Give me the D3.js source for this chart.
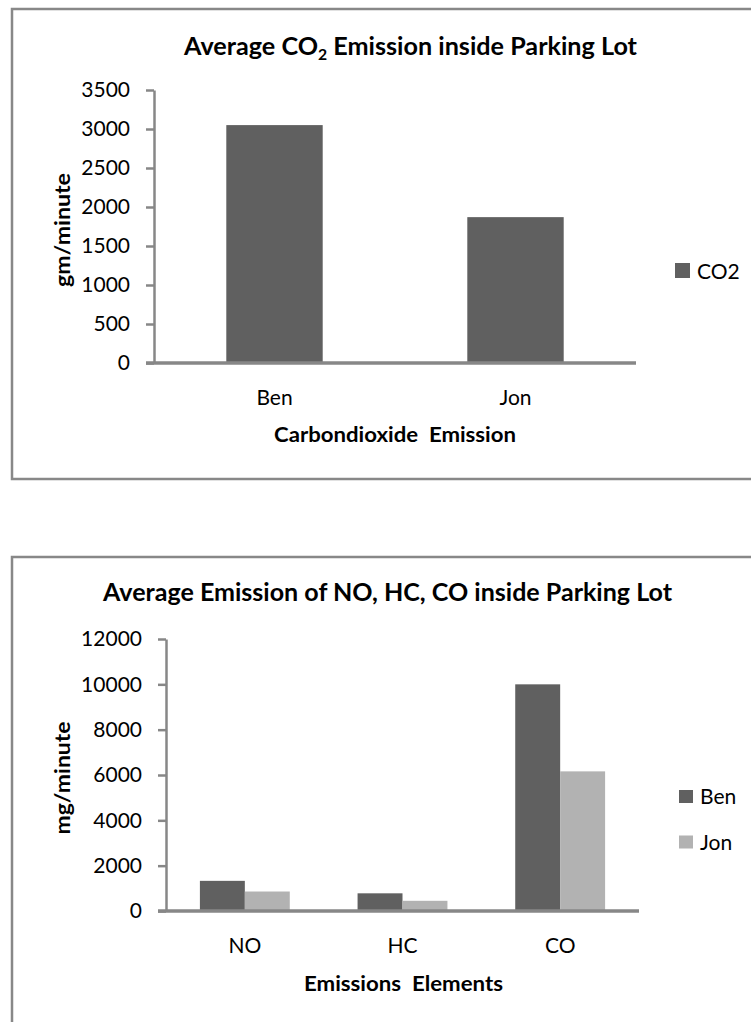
<!DOCTYPE html>
<html>
<head>
<meta charset="utf-8">
<script src="https://cdn.jsdelivr.net/npm/d3@7"></script>
<style>
  html, body { margin: 0; padding: 0; background: #fff; }
  svg { display: block; }
  text { font-family: Lato, "Open Sans", "Noto Sans", sans-serif; fill: #000; }
</style>
</head>
<body>
<svg id="chart" width="751" height="1022"></svg>
<script>
// ---- Data ----
const co2Categories = ["Ben", "Jon"];
const co2Values = [3050, 1870];
const co2Ticks = [0, 500, 1000, 1500, 2000, 2500, 3000, 3500];
const co2SeriesName = "CO2";

const emissionCategories = ["NO", "HC", "CO"];
const emissionSeries = ["Ben", "Jon"];
const benValues = [1330, 780, 10000];
const jonValues = [860, 450, 6160];
const emissionTicks = [0, 2000, 4000, 6000, 8000, 10000, 12000];

// ---- Styles ----
const DARK = "#606060";
const LIGHT = "#b2b2b2";
const AXIS = "#878787";
const FRAME = "#888888";
const LABEL_SIZE = 21;

const svg = d3.select("#chart");

function styleLabels(sel) {
  sel.selectAll("text").attr("font-size", LABEL_SIZE)
    .attr("font-family", "Lato, sans-serif").attr("fill", "#000");
}

// ---------- Top chart ----------
const g1 = svg.append("g");
g1.append("rect").attr("x", 12).attr("y", 9).attr("width", 800).attr("height", 470)
  .attr("fill", "none").attr("stroke", FRAME).attr("stroke-width", 2.5);

const t1 = g1.append("text").attr("x", 184).attr("y", 55)
  .attr("font-size", 24).attr("font-weight", "bold")
  .attr("textLength", 453).attr("lengthAdjust", "spacingAndGlyphs");
t1.append("tspan").text("Average CO");
t1.append("tspan").attr("font-size", 15).attr("dy", 5).text("2");
t1.append("tspan").attr("dy", -5).text(" Emission inside Parking Lot");

const x1 = d3.scaleBand().domain(co2Categories).range([154, 636]).paddingInner(0.6).paddingOuter(0.3);
const xb1 = d3.scaleBand().domain(co2Categories).range([154, 636]);
const y1 = d3.scaleLinear().domain([0, 3500]).range([363, 90]);

g1.selectAll("rect.bar").data(co2Values).join("rect").attr("class", "bar")
  .attr("x", (d, i) => x1(co2Categories[i]))
  .attr("width", x1.bandwidth())
  .attr("y", d => y1(d))
  .attr("height", d => y1(0) - y1(d))
  .attr("fill", DARK);

const ya1 = g1.append("g").attr("transform", "translate(154,0)")
  .call(d3.axisLeft(y1).tickValues(co2Ticks).tickSize(8).tickSizeOuter(0).tickPadding(16).tickFormat(d3.format("d")));
ya1.selectAll("path, line").attr("stroke", AXIS).attr("stroke-width", 2.5);
styleLabels(ya1);

const xa1 = g1.append("g").attr("transform", "translate(0,363)")
  .call(d3.axisBottom(xb1).tickSize(0).tickSizeOuter(0).tickPadding(27));
xa1.select("path").attr("stroke", AXIS).attr("stroke-width", 3.5).attr("d", "M146,0H636");
styleLabels(xa1);

g1.append("text").attr("transform", "translate(70,230) rotate(-90)").attr("text-anchor", "middle")
  .attr("font-size", 20).attr("font-weight", "bold")
  .attr("textLength", 114).attr("lengthAdjust", "spacingAndGlyphs").text("gm/minute");
g1.append("text").attr("x", 274).attr("y", 442)
  .attr("font-size", 21).attr("font-weight", "bold").attr("xml:space", "preserve")
  .attr("textLength", 242).attr("lengthAdjust", "spacingAndGlyphs").text("Carbondioxide  Emission");

// legend
const lg1 = g1.append("g");
lg1.append("rect").attr("x", 675).attr("y", 263).attr("width", 15).attr("height", 15).attr("fill", DARK);
lg1.append("text").attr("x", 697).attr("y", 279).attr("font-size", LABEL_SIZE).text(co2SeriesName);

// ---------- Bottom chart ----------
const g2 = svg.append("g");
g2.append("rect").attr("x", 12).attr("y", 557).attr("width", 800).attr("height", 600)
  .attr("fill", "none").attr("stroke", FRAME).attr("stroke-width", 2.5);

g2.append("text").attr("x", 103).attr("y", 601)
  .attr("font-size", 24).attr("font-weight", "bold")
  .attr("textLength", 569).attr("lengthAdjust", "spacingAndGlyphs")
  .text("Average Emission of NO, HC, CO inside Parking Lot");

const x2 = d3.scaleBand().domain(emissionCategories).range([166, 639]).paddingInner(0.43).paddingOuter(0.215);
const xb2 = d3.scaleBand().domain(emissionCategories).range([166, 639]);
const xs2 = d3.scaleBand().domain(emissionSeries).range([0, x2.bandwidth()]);
const y2 = d3.scaleLinear().domain([0, 12000]).range([911, 639]);

const seriesData = [benValues, jonValues];
const colors = d3.scaleOrdinal().domain(emissionSeries).range([DARK, LIGHT]);

emissionSeries.forEach((s, si) => {
  g2.selectAll("rect.s" + si).data(seriesData[si]).join("rect").attr("class", "s" + si)
    .attr("x", (d, i) => x2(emissionCategories[i]) + xs2(s))
    .attr("width", xs2.bandwidth())
    .attr("y", d => y2(d))
    .attr("height", d => y2(0) - y2(d))
    .attr("fill", colors(s));
});

const ya2 = g2.append("g").attr("transform", "translate(166,0)")
  .call(d3.axisLeft(y2).tickValues(emissionTicks).tickSize(8).tickSizeOuter(0).tickPadding(16).tickFormat(d3.format("d")));
ya2.selectAll("path, line").attr("stroke", AXIS).attr("stroke-width", 2.5);
styleLabels(ya2);

const xa2 = g2.append("g").attr("transform", "translate(0,911)")
  .call(d3.axisBottom(xb2).tickSize(0).tickSizeOuter(0).tickPadding(27));
xa2.select("path").attr("stroke", AXIS).attr("stroke-width", 3.5).attr("d", "M158,0H639");
styleLabels(xa2);

g2.append("text").attr("transform", "translate(70,778) rotate(-90)").attr("text-anchor", "middle")
  .attr("font-size", 20).attr("font-weight", "bold")
  .attr("textLength", 113).attr("lengthAdjust", "spacingAndGlyphs").text("mg/minute");
g2.append("text").attr("x", 304).attr("y", 991)
  .attr("font-size", 21).attr("font-weight", "bold").attr("xml:space", "preserve")
  .attr("textLength", 199).attr("lengthAdjust", "spacingAndGlyphs").text("Emissions  Elements");

const lg2 = g2.selectAll("g.leg").data(emissionSeries).join("g").attr("class", "leg")
  .attr("transform", (d, i) => `translate(679,${790 + i * 45.5})`);
lg2.append("rect").attr("width", 14).attr("height", 13).attr("fill", d => colors(d));
lg2.append("text").attr("x", 21).attr("y", 14).attr("font-size", LABEL_SIZE).text(d => d);
</script>
</body>
</html>
